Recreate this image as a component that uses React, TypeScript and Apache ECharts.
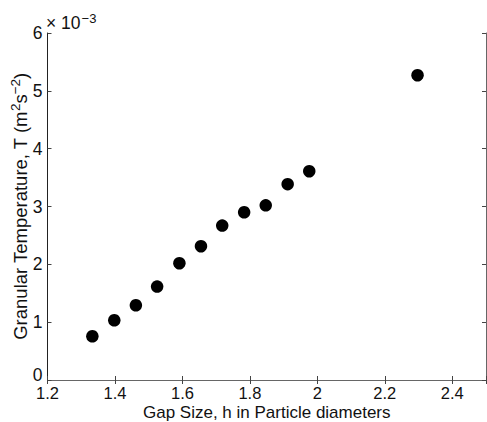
import React, { useEffect, useRef } from "react";
import * as echarts from "echarts";

const gapSize = [1.333, 1.398, 1.462, 1.525, 1.591, 1.655, 1.718, 1.783, 1.847, 1.912, 1.976, 2.297];
const temperature = [0.756, 1.033, 1.292, 1.615, 2.019, 2.313, 2.67, 2.9, 3.02, 3.386, 3.61, 5.27];
const xTicks = [1.2, 1.4, 1.6, 1.8, 2.0, 2.2, 2.4];
const yTicks = [0, 1, 2, 3, 4, 5, 6];

const FONT = "'Liberation Sans', Arial, sans-serif";
const FS = 17.5;

export default function App() {
  const ref = useRef<HTMLDivElement>(null);
  useEffect(() => {
    if (!ref.current) return;
    const chart = echarts.init(ref.current, undefined, { renderer: "svg" });
    const axisLine = { show: true, lineStyle: { color: "#222", width: 1 } };
    const tick = { show: true, inside: true, length: 4, lineStyle: { color: "#444" } };
    const data = gapSize.map((x, i) => [x, temperature[i]]);
    chart.setOption({
      animation: false,
      backgroundColor: "#fff",
      grid: { left: 47.5, right: 1, top: 33, bottom: 42, containLabel: false, outerBoundsMode: "none" },
      graphic: [
        {
          type: "text",
          left: 46,
          top: 12,
          style: {
            text: "× 10{sup|−3}",
            font: `${FS}px ${FONT}`,
            fill: "#111",
            rich: {
              sup: { fontSize: 13, fontFamily: FONT, verticalAlign: "top", padding: [0, 0, 9, 1] },
            },
          },
        },
      ],
      xAxis: [
        {
          type: "value",
          min: 1.2,
          max: 2.5,
          interval: 0.2,
          name: "Gap Size, h in Particle diameters",
          nameLocation: "middle",
          nameGap: 24,
          nameMoveOverlap: false,
          nameTextStyle: { fontSize: 17, fontFamily: FONT, color: "#111", lineHeight: 16 },
          axisLine,
          axisTick: tick,
          splitLine: { show: false },
          axisLabel: {
            fontSize: 16.5,
            fontFamily: FONT,
            color: "#111",
            margin: 7,
            lineHeight: 12,
            formatter: (v: number) => (xTicks.some((t) => Math.abs(t - v) < 1e-6) ? String(+v.toFixed(1)) : ""),
          },
        },
        {
          type: "value",
          position: "top",
          min: 1.2,
          max: 2.5,
          interval: 0.2,
          axisLine: { show: true, lineStyle: { color: "#666", width: 1 } },
          axisTick: tick,
          axisLabel: { show: false },
          splitLine: { show: false },
        },
      ],
      yAxis: [
        {
          type: "value",
          min: 0,
          max: 6,
          interval: 1,
          name: "Granular Temperature, T (m{sup|2}s{sup|−2})",
          nameLocation: "middle",
          nameGap: 16,
          nameMoveOverlap: false,
          nameTextStyle: {
            fontSize: 18.5,
            fontFamily: FONT,
            color: "#111",
            rich: {
              sup: { fontSize: 13.5, fontFamily: FONT, color: "#111", verticalAlign: "top", padding: [0, 0, 9, 0] },
            },
          },
          axisLine,
          axisTick: tick,
          splitLine: { show: false },
          axisLabel: {
            fontSize: FS,
            fontFamily: FONT,
            color: "#111",
            margin: 5,
            lineHeight: 14,
            formatter: (v: number) => (yTicks.includes(v) ? (v === 0 ? "{z|0}" : String(v)) : ""),
            rich: {
              z: { fontSize: FS, fontFamily: FONT, color: "#111", lineHeight: 14, padding: [0, 0, 10, 0] },
            },
          },
        },
        {
          type: "value",
          position: "right",
          min: 0,
          max: 6,
          interval: 1,
          axisLine: { show: true, lineStyle: { color: "#666", width: 1 } },
          axisTick: tick,
          axisLabel: { show: false },
          splitLine: { show: false },
        },
      ],
      series: [
        {
          type: "scatter",
          data,
          symbol: "circle",
          symbolSize: 12.5,
          itemStyle: { color: "#000", opacity: 1 },
        },
      ],
    });
    return () => chart.dispose();
  }, []);
  return <div ref={ref} style={{ width: 487, height: 422, position: "absolute", left: 0, top: 0 }} />;
}
